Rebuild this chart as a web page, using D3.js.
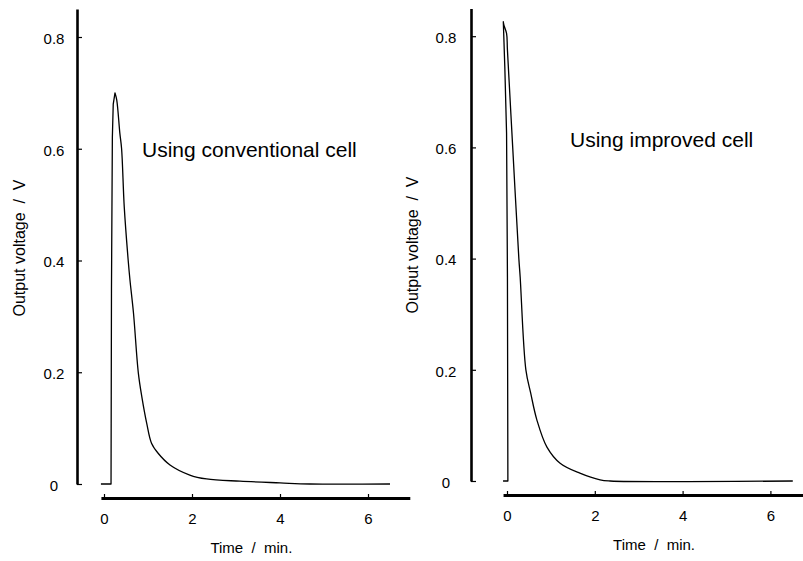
<!DOCTYPE html>
<html>
<head>
<meta charset="utf-8">
<script src="https://cdn.jsdelivr.net/npm/d3@7"></script>
<style>
    body { margin: 0; background: #fff; }
    svg { display: block; }
    text { font-family: "Liberation Sans", Arial, sans-serif; fill: #000; }
</style>
</head>
<body>
<svg id="chart" width="803" height="561"></svg>
<script>
// tick values shared by both panels
var timeTicks = [0, 2, 4, 6];
var voltTicks = [0, 0.2, 0.4, 0.6, 0.8];

// conventional cell (time in min, output in V)
var convTime = [-0.07, 0.16, 0.17, 0.19, 0.21, 0.25, 0.29, 0.36, 0.40, 0.46, 0.55, 0.59, 0.67, 0.78, 0.86, 0.97, 1.08, 1.23, 1.5, 1.95, 2.33, 3.09, 4.0, 4.68, 6.5];
var convVolt = [0, 0, 0.35, 0.62, 0.68, 0.70, 0.687, 0.628, 0.60, 0.496, 0.40, 0.365, 0.306, 0.199, 0.156, 0.109, 0.073, 0.055, 0.034, 0.016, 0.009, 0.005, 0.002, 0, 0];

// improved cell
var imprTime = [-0.09, 0.02, 0.01, -0.01, -0.05, -0.084, -0.07, -0.01, 0.01, 0.13, 0.27, 0.30, 0.43, 0.54, 0.68, 0.91, 1.21, 1.66, 2.12, 2.35, 6.51];
var imprVolt = [0, 0, 0.367, 0.626, 0.745, 0.826, 0.82, 0.805, 0.775, 0.6, 0.4, 0.367, 0.2, 0.158, 0.11, 0.061, 0.032, 0.014, 0.002, 0, 0];

var svg = d3.select("#chart");

function zip(ts, vs) {
    return ts.map(function (t, i) { return { t: t, v: vs[i] }; });
}

function drawPanel(p) {
    var x = d3.scaleLinear().domain(p.xDomain).range(p.xRange);
    var y = d3.scaleLinear().domain([0, 0.85]).range([p.y0, p.y0 - 0.85 * p.yUnit]);

    var g = svg.append("g");

    // y axis, ticks pointing inward
    var yAxis = g.append("g")
        .attr("transform", "translate(" + p.yAxisX + ",0)")
        .call(d3.axisLeft(y).tickValues(voltTicks).tickSizeInner(-5).tickSizeOuter(0)
            .tickFormat(function (d) { return d === 0 ? "0" : d3.format(".1f")(d); }));
    yAxis.select(".domain").attr("stroke-width", 2.6).attr("stroke", "#000");
    yAxis.selectAll(".tick line").attr("stroke-width", 1.2);
    yAxis.selectAll(".tick text")
        .attr("text-anchor", "middle")
        .attr("x", -p.labelGap)
        .attr("dy", "0.42em")
        .style("font-size", "15px");

    // x axis, ticks pointing up, labels below
    var xAxis = g.append("g")
        .attr("transform", "translate(0," + p.xAxisY + ")")
        .call(d3.axisBottom(x).tickValues(timeTicks).tickFormat(d3.format("d"))
            .tickSizeInner(-4).tickSizeOuter(0).tickPadding(15));
    xAxis.select(".domain").attr("stroke-width", 3).attr("stroke", "#000");
    xAxis.selectAll(".tick line").attr("stroke-width", 1.2);
    xAxis.selectAll(".tick text").style("font-size", "15px");

    // trace: straight rise up to the peak, smooth decay after it
    var pts = zip(p.time, p.volt);
    var peak = d3.maxIndex(pts, function (d) { return d.v; });

    var rise = d3.line()
        .x(function (d) { return x(d.t); })
        .y(function (d) { return y(d.v); });
    var decay = d3.line()
        .x(function (d) { return x(d.t); })
        .y(function (d) { return y(d.v); })
        .curve(d3.curveCatmullRom.alpha(0.5));

    g.append("path")
        .attr("d", rise(pts.slice(0, peak + 1)) + decay(pts.slice(peak)).replace(/^M[^C]*/, ""))
        .attr("fill", "none")
        .attr("stroke", "#000")
        .attr("stroke-width", 1.3)
        .attr("stroke-linejoin", "round");

    // axis titles
    g.append("text")
        .attr("x", x(3.35))
        .attr("y", p.xAxisY + 55)
        .attr("text-anchor", "middle")
        .style("font-size", "15px")
        .style("white-space", "pre")
        .text("Time  /  min.");

    g.append("text")
        .attr("transform", "translate(" + p.yTitleX + "," + p.yTitleY + ") rotate(-90)")
        .attr("text-anchor", "middle")
        .style("font-size", "16px")
        .style("white-space", "pre")
        .text("Output voltage  /  V");

    g.append("text")
        .attr("x", p.noteX)
        .attr("y", p.noteY)
        .style("font-size", "21px")
        .text(p.note);
}

drawPanel({
    xDomain: [-0.07, 6.95], xRange: [104 - 0.07 * 44, 104 + 6.95 * 44],
    y0: 484, yUnit: 558.75,
    yAxisX: 77, xAxisY: 498, labelGap: 23,
    yTitleX: 25, yTitleY: 248,
    time: convTime, volt: convVolt,
    note: "Using conventional cell", noteX: 142, noteY: 157
});

drawPanel({
    xDomain: [-0.09, 6.75], xRange: [507 - 0.09 * 43.9, 507 + 6.75 * 43.9],
    y0: 481, yUnit: 556,
    yAxisX: 471, xAxisY: 495, labelGap: 25,
    yTitleX: 418, yTitleY: 245,
    time: imprTime, volt: imprVolt,
    note: "Using improved cell", noteX: 570, noteY: 147
});
</script>
</body>
</html>
